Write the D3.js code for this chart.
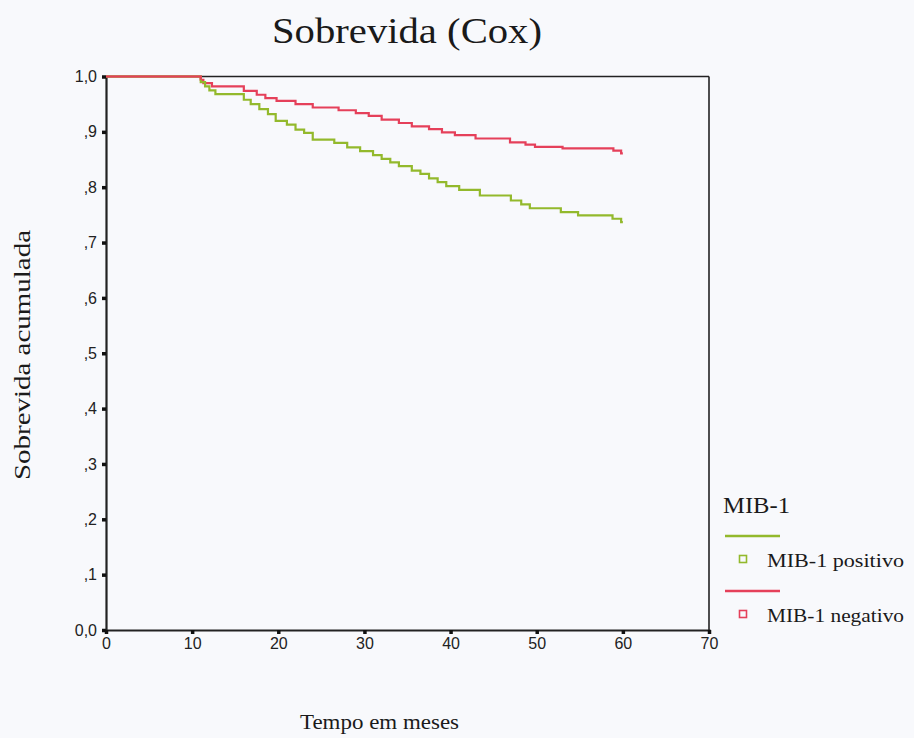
<!DOCTYPE html>
<html>
<head>
<meta charset="utf-8">
<script src="https://cdn.jsdelivr.net/npm/d3@7"></script>
<style>
  html, body { margin: 0; padding: 0; background: #f8f9fc; }
  svg { display: block; }
</style>
</head>
<body>
<svg id="chart" width="914" height="738"></svg>
<script>
// Estimated cumulative survival (Cox model), step values by month
const positivoTimes = [0, 11.0, 11.5, 12.0, 12.7, 16.0, 16.8, 17.8, 18.8, 19.7, 21.0, 22.0, 23.0, 24.0, 26.5, 28.0, 29.5, 31.0, 32.0, 33.0, 34.0, 35.5, 36.5, 37.5, 38.5, 39.5, 41.0, 43.4, 47.0, 48.2, 49.2, 52.8, 54.8, 58.8, 59.8, 60.0];
const positivoSurv  = [1.0, 0.990, 0.982, 0.975, 0.968, 0.958, 0.950, 0.941, 0.932, 0.920, 0.913, 0.904, 0.898, 0.886, 0.880, 0.872, 0.865, 0.858, 0.851, 0.845, 0.838, 0.830, 0.824, 0.816, 0.809, 0.802, 0.795, 0.785, 0.776, 0.769, 0.762, 0.755, 0.749, 0.743, 0.737, 0.737];

const negativoTimes = [0, 11.0, 11.3, 12.3, 16.0, 17.5, 18.5, 19.8, 22.0, 24.0, 27.0, 29.0, 30.5, 32.0, 34.0, 35.5, 37.5, 39.0, 40.5, 42.9, 46.9, 48.7, 49.8, 53.0, 58.9, 59.8, 60.0];
const negativoSurv  = [1.0, 0.994, 0.988, 0.982, 0.974, 0.967, 0.961, 0.956, 0.950, 0.944, 0.939, 0.934, 0.929, 0.922, 0.916, 0.910, 0.905, 0.899, 0.894, 0.888, 0.881, 0.877, 0.873, 0.870, 0.866, 0.861, 0.861];

const seriesNames = ["MIB-1 positivo", "MIB-1 negativo"];
const seriesColors = ["#93b92c", "#e5405a"];
const xTicks = [0, 10, 20, 30, 40, 50, 60, 70];
const yTicks = [0, 0.1, 0.2, 0.3, 0.4, 0.5, 0.6, 0.7, 0.8, 0.9, 1.0];
const yTickLabels = ["0,0", ",1", ",2", ",3", ",4", ",5", ",6", ",7", ",8", ",9", "1,0"];

const svg = d3.select("#chart");
const plot = { left: 106, right: 709, top: 76.5, bottom: 630 };

const x = d3.scaleLinear().domain([0, 70]).range([plot.left, plot.right]);
const y = d3.scaleLinear().domain([0, 1]).range([plot.bottom, plot.top]);

const serif = "'Liberation Serif', 'Times New Roman', serif";
const sans = "'Liberation Sans', Arial, sans-serif";

// Title
svg.append("text")
  .attr("x", 272).attr("y", 43)
  .attr("font-family", serif).attr("font-size", 36).attr("fill", "#1a1a1a")
  .attr("textLength", 270).attr("lengthAdjust", "spacingAndGlyphs")
  .text("Sobrevida (Cox)");

// Frame: top and right borders
svg.append("line")
  .attr("x1", plot.left).attr("x2", plot.right).attr("y1", plot.top).attr("y2", plot.top)
  .attr("stroke", "#222").attr("stroke-width", 1.6);
svg.append("line")
  .attr("x1", plot.right).attr("x2", plot.right).attr("y1", plot.top).attr("y2", plot.bottom)
  .attr("stroke", "#222").attr("stroke-width", 1.6);

// Y axis
const yAxis = d3.axisLeft(y).tickValues(yTicks).tickSize(4).tickPadding(5)
  .tickFormat((d, i) => yTickLabels[i]);
const gy = svg.append("g").attr("transform", `translate(${plot.left},0)`).call(yAxis);
gy.select(".domain").attr("stroke", "#222").attr("stroke-width", 2.2);
gy.selectAll(".tick line").attr("stroke", "#111").attr("stroke-width", 3.5);
gy.selectAll(".tick text").attr("font-family", sans).attr("font-size", 16).attr("fill", "#222");

// X axis
const xAxis = d3.axisBottom(x).tickValues(xTicks).tickSize(4).tickPadding(4)
  .tickFormat(d3.format("d"));
const gx = svg.append("g").attr("transform", `translate(0,${plot.bottom})`).call(xAxis);
gx.select(".domain").attr("stroke", "#222").attr("stroke-width", 2.2);
gx.selectAll(".tick line").attr("stroke", "#111").attr("stroke-width", 3.5);
gx.selectAll(".tick text").attr("font-family", sans).attr("font-size", 16).attr("fill", "#222");

// Axis titles
svg.append("text")
  .attr("transform", "translate(30,355) rotate(-90)")
  .attr("text-anchor", "middle")
  .attr("font-family", serif).attr("font-size", 24).attr("fill", "#1a1a1a")
  .attr("textLength", 250).attr("lengthAdjust", "spacingAndGlyphs")
  .text("Sobrevida acumulada");

svg.append("text")
  .attr("x", 300).attr("y", 729)
  .attr("font-family", serif).attr("font-size", 21).attr("fill", "#1a1a1a")
  .attr("textLength", 159).attr("lengthAdjust", "spacingAndGlyphs")
  .text("Tempo em meses");

// Survival curves
const line = d3.line().x(d => x(d[0])).y(d => y(d[1])).curve(d3.curveStepAfter);
const curves = [
  d3.zip(positivoTimes, positivoSurv),
  d3.zip(negativoTimes, negativoSurv)
];
// negative first so positive sits on top where they overlap at 1.0
[1, 0].forEach(i => {
  svg.append("path")
    .datum(curves[i])
    .attr("d", line)
    .attr("fill", "none")
    .attr("stroke", seriesColors[i])
    .attr("stroke-width", 2.2);
});
// red line is drawn over the flat start
svg.append("path")
  .datum(curves[1].filter(d => d[0] <= 11))
  .attr("d", line)
  .attr("fill", "none")
  .attr("stroke", seriesColors[1])
  .attr("stroke-width", 2.2);

// Legend
const legend = svg.append("g");
legend.append("text")
  .attr("x", 723).attr("y", 513)
  .attr("font-family", serif).attr("font-size", 24).attr("fill", "#1a1a1a")
  .attr("textLength", 67).attr("lengthAdjust", "spacingAndGlyphs")
  .text("MIB-1");

const legendRows = [536, 591];
seriesNames.forEach((name, i) => {
  const ly = legendRows[i];
  legend.append("line")
    .attr("x1", 725).attr("x2", 780).attr("y1", ly).attr("y2", ly)
    .attr("stroke", seriesColors[i]).attr("stroke-width", 2.4);
  legend.append("rect")
    .attr("x", 739.5).attr("y", ly + 19.5).attr("width", 7).attr("height", 7)
    .attr("fill", "#f8f9fc").attr("stroke", seriesColors[i]).attr("stroke-width", 1.6);
  legend.append("text")
    .attr("x", 767).attr("y", ly + 31)
    .attr("font-family", serif).attr("font-size", 18).attr("fill", "#1a1a1a")
    .attr("textLength", 137).attr("lengthAdjust", "spacingAndGlyphs")
    .text(name);
});
</script>
</body>
</html>
